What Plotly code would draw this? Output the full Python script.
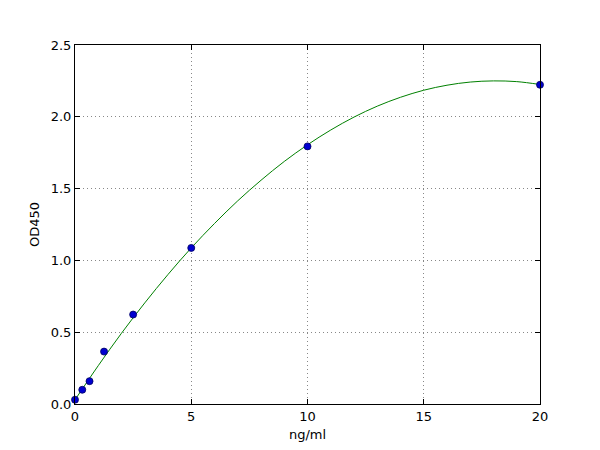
import plotly.graph_objects as go

# standard points
conc = [0, 0.3125, 0.625, 1.25, 2.5, 5, 10, 20]
od450 = [0.03, 0.099, 0.159, 0.365, 0.623, 1.087, 1.794, 2.223]

# fitted curve
curve_x = [0, 1, 2, 3, 4, 5, 6, 7, 8, 9, 10, 11, 12, 13, 14, 15, 16, 17, 18, 19, 20]
curve_y = [0.029, 0.267, 0.493, 0.704, 0.902, 1.087, 1.257, 1.415, 1.558, 1.689, 1.805,
           1.908, 1.998, 2.074, 2.136, 2.185, 2.220, 2.242, 2.250, 2.245, 2.225]

x_ticks = [0, 5, 10, 15, 20]
y_ticks = [0.0, 0.5, 1.0, 1.5, 2.0, 2.5]
y_tick_text = ["0.0", "0.5", "1.0", "1.5", "2.0", "2.5"]

font = dict(family="DejaVu Sans", size=13, color="black")

fig = go.Figure()
fig.add_trace(go.Scatter(x=curve_x, y=curve_y, mode="lines", line_shape="spline",
                         line=dict(color="#008000", width=1), showlegend=False))
fig.add_trace(go.Scatter(x=conc, y=od450, mode="markers",
                         marker=dict(color="#0000d0", size=7,
                                     line=dict(color="#000060", width=0.8)),
                         showlegend=False, cliponaxis=False))

axis_common = dict(showline=True, linecolor="black", linewidth=1, mirror="ticks",
                   ticks="inside", ticklen=5, tickcolor="black",
                   showgrid=True, gridcolor="#888888", griddash="1px,3px", gridwidth=1,
                   zeroline=False, tickfont=font)

fig.update_xaxes(range=[0, 20], tickvals=x_ticks,
                 title=dict(text="ng/ml", font=font, standoff=7),
                 **axis_common)
fig.update_yaxes(range=[0, 2.5], tickvals=y_ticks, ticktext=y_tick_text,
                 title=dict(text="OD450", font=font, standoff=8),
                 **axis_common)

# the page adds an 8px body margin, so the margins are shifted by that
fig.update_layout(width=600, height=450, margin=dict(l=67, r=68, t=37, b=54),
                  paper_bgcolor="white", plot_bgcolor="white")

fig.write_html("out.html")
